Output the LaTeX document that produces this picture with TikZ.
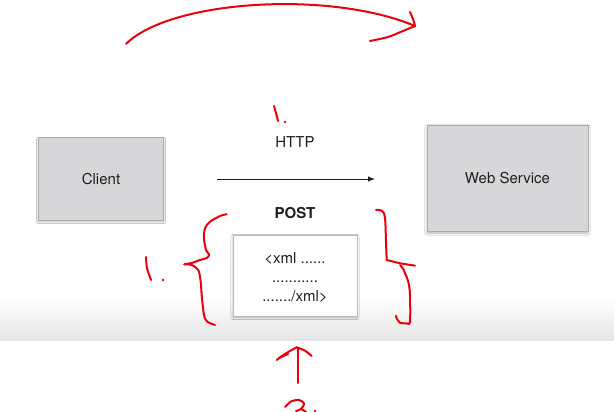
\documentclass[tikz,border=0pt]{standalone}
\usepackage{fontspec}
\setmainfont{TeX Gyre Heros}
\usetikzlibrary{shadows.blur,arrows.meta}
\definecolor{boxfill}{HTML}{D7D7D9}
\definecolor{boxline}{HTML}{ABABAB}
\definecolor{pen}{HTML}{E8000B}
\definecolor{ink}{HTML}{1E1E1E}
\begin{document}
\begin{tikzpicture}[x=1pt,y=-1pt,
  every node/.style={font=\fontsize{15}{18}\selectfont, text=ink},
  graybox/.style={draw=boxline, line width=1pt, fill=boxfill, inner sep=0pt,
    blur shadow={shadow xshift=0pt, shadow yshift=-1.5pt, shadow blur steps=6, shadow opacity=30}},
  whitebox/.style={draw=boxline!80, line width=0.8pt, fill=white, inner sep=0pt,
    blur shadow={shadow xshift=0pt, shadow yshift=-1.5pt, shadow blur steps=6, shadow opacity=30}},
  penline/.style={draw=pen, line width=2pt, line cap=round, line join=round},
  pendot/.style={fill=pen, circle, inner sep=0pt, minimum size=2.8pt}
]
\useasboundingbox (0,0) rectangle (614,412);
\fill[white] (0,0) rectangle (614,412);
% bottom gradient band
\shade[top color=white, bottom color=black!10] (0,298) rectangle (614,340);

% nodes
\node[graybox, minimum width=125pt, minimum height=82pt] (client) at (101,179) {Client};
\node[graybox, minimum width=161pt, minimum height=106pt] (ws) at (507.5,178.5) {Web Service};
\node[whitebox, minimum width=124pt, minimum height=81pt] (xml) at (295,275.5) {};
\node[anchor=base] (x1) at (295,263) {<xml ......};
\node[anchor=base] (x2) at (295,282) {...........};
\node[anchor=base] (x3) at (295,301) {......./xml>};
\node (http) at (295,142) {HTTP};
\node[font=\fontsize{15}{18}\selectfont\bfseries] (post) at (295,213) {POST};

% black arrow
\coordinate (a1) at (217,179);
\coordinate (a2) at (375,179);
\draw[ink, line width=1pt, -{Latex[length=7pt,width=5.5pt]}] (a1) -- (a2);

% red annotations
\draw[penline] (126,44) .. controls (170,0) and (330,-10) .. (415,26);
\draw[penline] plot[smooth] coordinates {(410,12) (413,19) (415,26)};
\draw[penline] plot[smooth] coordinates {(415,26) (403,31) (388,37) (370,41)};

% "1." near HTTP
\draw[penline] plot[smooth] coordinates {(274,106) (276,113) (278,121)};
\node[pendot] (d1) at (285,122) {};

% left "1."
\draw[penline] plot[smooth] coordinates {(146,257) (147,268) (151,280)};
\node[pendot] (d2) at (163,280) {};

% left brace
\draw[penline] plot[smooth, tension=0.5] coordinates {(226.7,214.3) (220.7,215.7) (210,221.7) (205,228.3) (204,238.3) (206,250) (209,254.3) (207.3,257.7) (200,260) (191.7,263) (184.3,264.3)};
\draw[penline] plot[smooth, tension=0.5] coordinates {(184.3,264.3) (191.7,265) (198.3,270) (200.7,281.7) (201.7,295) (204,315) (207.3,321.7) (215,325)};

% right brace
\draw[penline] plot[smooth, tension=0.5] coordinates {(376,210) (380.7,210.3) (384,213.3) (385.3,221.7) (386,241.7) (386.7,260)};
\draw[penline] (386.7,260) -- (400,263.3) -- (415,265.7);
\draw[penline] plot[smooth, tension=0.5] coordinates {(400,265) (403.3,269) (405,273.3) (408.3,281.7) (410,295) (410,321.7) (406.7,323.3) (400,322.7) (396.7,318.3) (396,315.7)};

% bottom arrow
\draw[penline] (298,348) -- (298,383);
\draw[penline] plot[smooth] coordinates {(276.7,360) (283.3,355) (291.7,350) (296.7,347.3)};
\draw[penline] plot[smooth] coordinates {(296.7,347.3) (305,350.7) (311.7,356)};
\draw[penline] (279,358) -- (288,354);

% "3."
\draw[penline] plot[smooth] coordinates {(285,407) (291,401.5) (299,400) (304,403.5) (301,409) (296,411)};
\draw[penline] plot[smooth] coordinates {(301,409) (306,412) (308,416)};
\node[pendot] (d3) at (315,411) {};
\end{tikzpicture}
\end{document}
